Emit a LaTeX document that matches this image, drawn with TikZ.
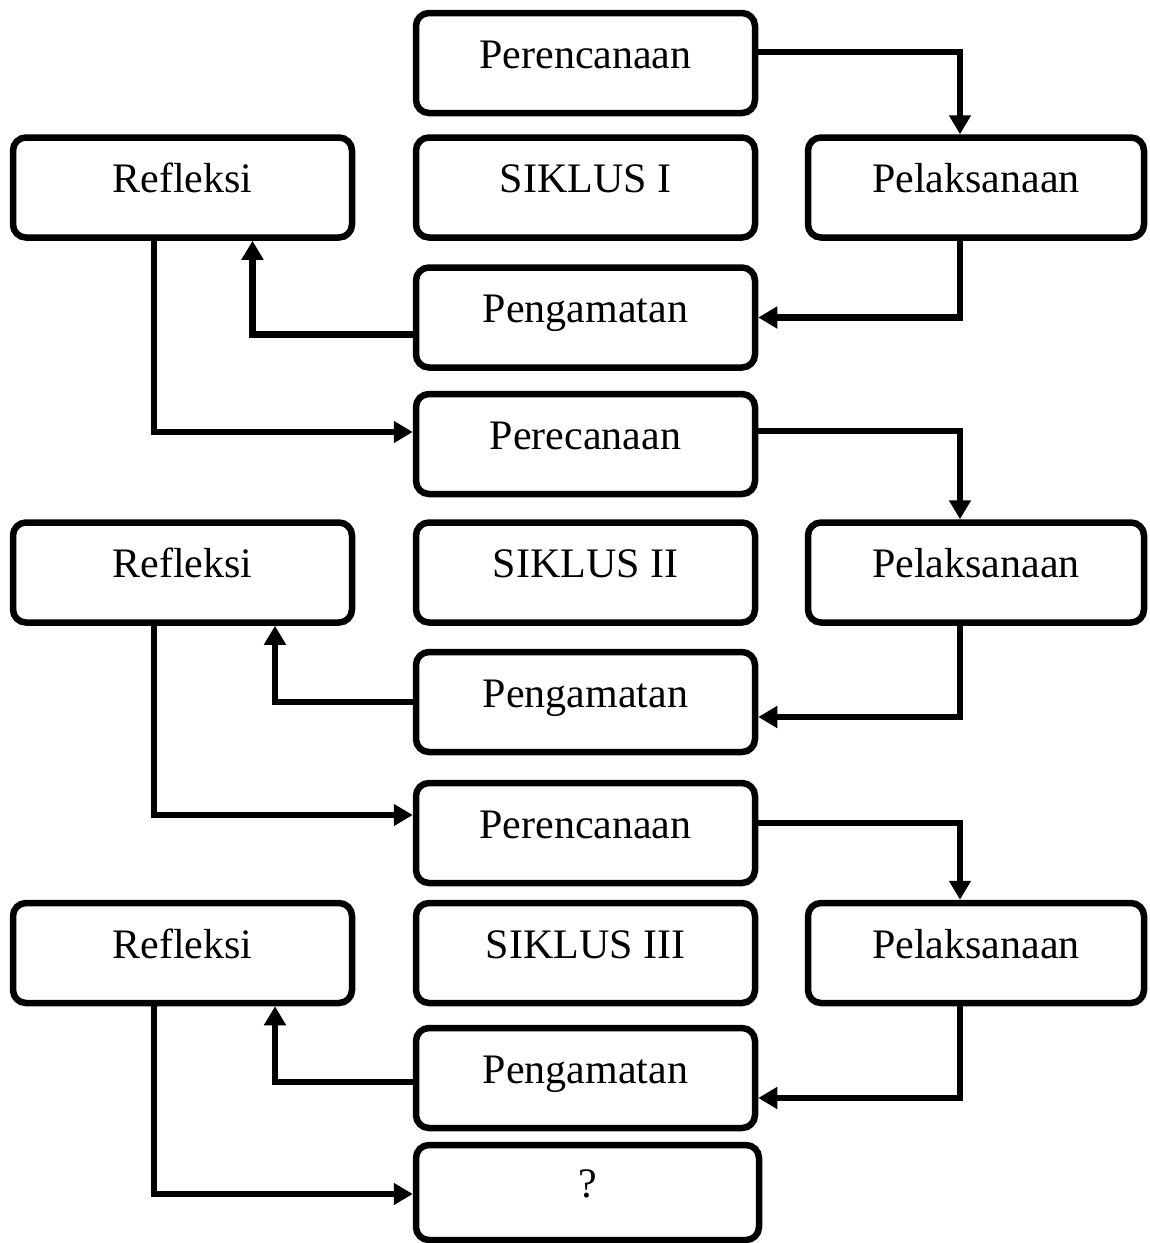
\documentclass[tikz,border=0pt]{standalone}
\usepackage{fontspec}
\setmainfont{Liberation Serif}
\usetikzlibrary{arrows.meta}
\begin{document}
\begin{tikzpicture}[x=1pt,y=-1pt,
  box/.style={draw, line width=6.5pt, rounded corners=13pt, minimum width=339pt,
    minimum height=100pt, inner sep=0pt, text height=28pt, text depth=18pt,
    font=\fontsize{42}{50}\selectfont},
  conn/.style={line width=6.5pt, line join=miter, -{Triangle[length=19pt,width=21pt]}}]
\useasboundingbox (0,0) rectangle (1150,1243);
% middle column
\node[box] (pc1) at (585.5,63) {Perencanaan};
\node[box] (s1)  at (585.5,187.5) {SIKLUS I};
\node[box] (g1)  at (585.5,317.5) {Pengamatan};
\node[box] (pc2) at (585.5,444) {Perecanaan};
\node[box] (s2)  at (585.5,572.5) {SIKLUS II};
\node[box] (g2)  at (585.5,702) {Pengamatan};
\node[box] (pc3) at (585.5,833) {Perencanaan};
\node[box] (s3)  at (585.5,953) {SIKLUS III};
\node[box] (g3)  at (585.5,1078) {Pengamatan};
\node[box, minimum width=343pt, minimum height=95pt] (q) at (587.5,1192.5) {?};
% left column
\node[box] (rf1) at (182.5,187.5) {Refleksi};
\node[box] (rf2) at (182.5,572.5) {Refleksi};
\node[box] (rf3) at (182.5,953) {Refleksi};
% right column
\node[box, minimum width=336pt] (pl1) at (976,187.5) {Pelaksanaan};
\node[box, minimum width=336pt] (pl2) at (976,572.5) {Pelaksanaan};
\node[box, minimum width=336pt] (pl3) at (976,953) {Pelaksanaan};
% cycle I
\draw[conn] ([yshift=11pt]pc1.east) -| ([xshift=-16pt]pl1.north);
\draw[conn] ([xshift=-16pt]pl1.south) |- (g1.east);
\draw[conn] ([yshift=-17pt]g1.west) -| ([xshift=70pt]rf1.south);
\draw[conn] ([xshift=-28.5pt]rf1.south) |- ([yshift=12pt]pc2.west);
% cycle II
\draw[conn] ([yshift=13pt]pc2.east) -| ([xshift=-16pt]pl2.north);
\draw[conn] ([xshift=-16pt]pl2.south) |- ([yshift=-15pt]g2.east);
\draw[conn] (g2.west) -| ([xshift=92.5pt]rf2.south);
\draw[conn] ([xshift=-28.5pt]rf2.south) |- ([yshift=18pt]pc3.west);
% cycle III
\draw[conn] ([yshift=10pt]pc3.east) -| ([xshift=-16pt]pl3.north);
\draw[conn] ([xshift=-16pt]pl3.south) |- ([yshift=-20pt]g3.east);
\draw[conn] ([yshift=-4pt]g3.west) -| ([xshift=92.5pt]rf3.south);
\draw[conn] ([xshift=-28.5pt]rf3.south) |- ([yshift=-1.5pt]q.west);
\end{tikzpicture}
\end{document}
